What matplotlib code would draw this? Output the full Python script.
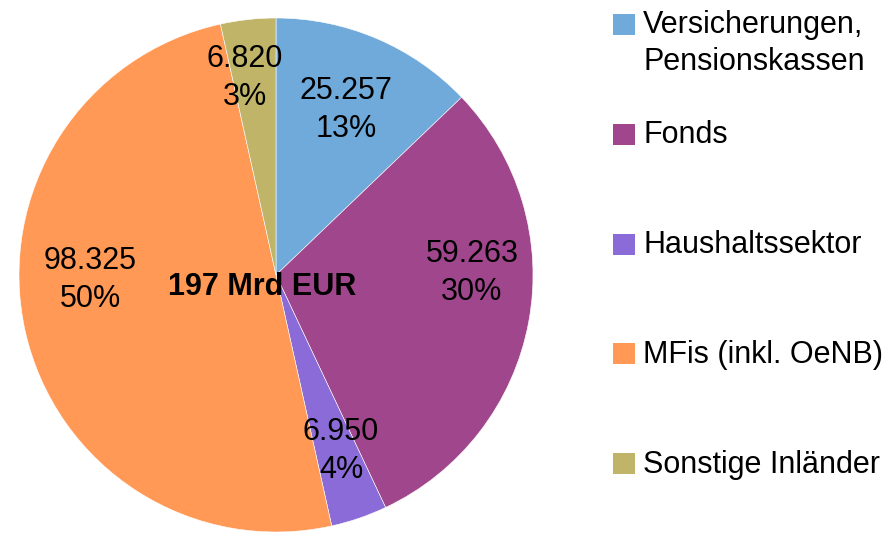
import matplotlib
matplotlib.use('Agg')
import matplotlib.pyplot as plt
from matplotlib.patches import Rectangle

plt.rcParams['font.family'] = ['Liberation Sans', 'DejaVu Sans']

# holders of securities, Mio EUR
labels = ['Versicherungen,\nPensionskassen', 'Fonds', 'Haushaltssektor',
          'MFis (inkl. OeNB)', 'Sonstige Inländer']
values = [25257, 59263, 6950, 98325, 6820]
colors = ['#6FAADB', '#A0468C', '#8A6BD8', '#FF9955', '#C0B468']

W, H = 889, 533
fig = plt.figure(figsize=(W / 100, H / 100), dpi=100)

# pie: centre (276, 275) px, radius 257 px
cx, cy, r = 276, 275, 257
ax = fig.add_axes([(cx - r) / W, (H - cy - r) / H, 2 * r / W, 2 * r / H])

total = sum(values)
FS = 22


def fmt_label(pct):
    val = round(pct * total / 100)
    return f"{val:,}".replace(',', '.') + f"\n{pct:.0f}%"


wedges, _, autotexts = ax.pie(values, colors=colors, startangle=90, counterclock=False,
                              radius=1, autopct=fmt_label, pctdistance=0.73,
                              wedgeprops=dict(edgecolor='white', linewidth=0.4),
                              textprops=dict(fontsize=FS, color='black', linespacing=1.38))
ax.set_xlim(-1, 1)
ax.set_ylim(-1, 1)
ax.axis('off')

# data labels sit where the original chart put them (pixel centres)
label_px = [(346, 110), (472, 273), (341, 451), (90, 280), (245, 78)]
for t, (px, py) in zip(autotexts, label_px):
    t.set_position(((px - cx) / r, (cy - py) / r))

ax.text((262 - cx) / r, (cy - 287) / r, f"{round(total / 1000)} Mrd EUR",
        ha='center', va='center', fontsize=FS, fontweight='bold')

# legend, drawn by hand so the square lines up with the first text line
y0 = 24.5
step = 109.8
line_gap = 36
for i, (lab, col) in enumerate(zip(labels, colors)):
    yc = y0 + i * step
    fig.patches.append(Rectangle((613 / W, 1 - (yc + 10.5) / H), 22 / W, 21 / H,
                                 transform=fig.transFigure, facecolor=col, edgecolor='none'))
    for j, line in enumerate(lab.split('\n')):
        fig.text(643 / W, 1 - (yc + 9 + j * line_gap) / H, line, ha='left',
                 va='baseline', fontsize=FS)

fig.savefig('out.png', dpi=100)
